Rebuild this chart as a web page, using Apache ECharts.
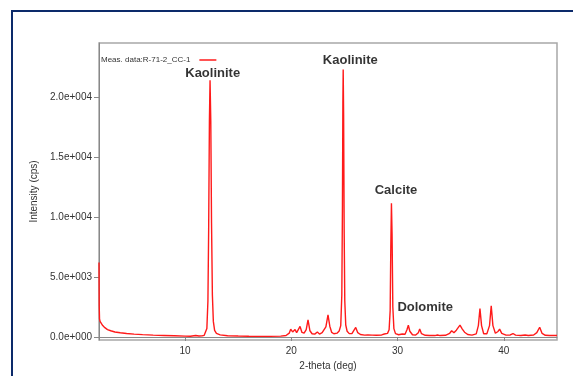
<!DOCTYPE html>
<html>
<head>
<meta charset="utf-8">
<script src="https://cdn.jsdelivr.net/npm/echarts@6/dist/echarts.min.js"></script>
<style>
  html, body { margin: 0; padding: 0; background: #fff; }
  #xrdChart { width: 573px; height: 376px; }
</style>
</head>
<body>
<div id="xrdChart"></div>
<script>
// measured pattern, 2-theta (deg) and intensity (cps)
const twoTheta = [
  1.90, 1.92, 1.95, 2.00, 2.10, 2.25, 2.45, 2.70, 3.00, 3.40, 3.90, 4.50, 5.20, 6.00, 7.00, 8.00, 9.00, 10.00, 10.50, 11.00,
  11.30, 11.60, 11.80, 11.95, 12.05, 12.15, 12.22, 12.29, 12.35, 12.42, 12.49, 12.57, 12.66, 12.78, 12.95, 13.30, 14.00, 15.00, 16.00, 17.00,
  18.00, 19.00, 19.50, 19.80, 19.94, 20.12, 20.35, 20.50, 20.65, 20.82, 21.00, 21.20, 21.40, 21.57, 21.75, 21.95, 22.20, 22.45, 22.65, 22.90,
  23.08, 23.25, 23.45, 23.62, 23.80, 24.00, 24.30, 24.50, 24.65, 24.75, 24.81, 24.85, 24.88, 24.92, 24.97, 25.03, 25.12, 25.25, 25.45, 25.70,
  25.88, 26.06, 26.25, 26.50, 26.90, 27.20, 27.37, 27.60, 28.00, 28.50, 28.75, 28.88, 29.05, 29.20, 29.30, 29.36, 29.42, 29.48, 29.55, 29.65,
  29.80, 30.10, 30.44, 30.70, 30.88, 31.01, 31.15, 31.40, 31.70, 31.95, 32.08, 32.25, 32.60, 33.00, 33.50, 33.75, 34.00, 34.50, 34.90, 35.09,
  35.30, 35.53, 35.70, 35.87, 36.09, 36.30, 36.60, 37.00, 37.40, 37.60, 37.75, 37.90, 38.10, 38.40, 38.65, 38.81, 38.97, 39.20, 39.45, 39.60,
  39.80, 40.20, 40.60, 40.86, 41.10, 41.60, 42.00, 42.30, 42.80, 43.10, 43.37, 43.60, 43.90, 44.30, 44.70, 45.00
]
const intensity = [
  6200, 2600, 1500, 1300, 1150, 950, 780, 620, 520, 420, 350, 290, 240, 200, 160, 130, 100, 70, 60, 120,
  80, 90, 140, 250, 700, 3000, 9000, 18000, 21400, 18000, 9500, 3500, 1300, 550, 300, 180, 110, 80, 60, 50,
  55, 70, 120, 320, 650, 420, 620, 360, 420, 880, 380, 320, 620, 1430, 520, 270, 240, 420, 240, 360,
  520, 850, 1850, 900, 380, 270, 320, 500, 950, 3500, 11000, 19500, 22300, 18500, 9000, 3000, 1000, 480, 280, 280,
  400, 800, 360, 210, 160, 180, 260, 160, 140, 170, 250, 380, 300, 600, 2200, 7500, 11150, 8500, 2500, 700,
  280, 190, 250, 230, 600, 980, 480, 190, 160, 360, 660, 280, 140, 120, 120, 170, 120, 140, 310, 520,
  360, 570, 620, 990, 660, 400, 210, 160, 260, 950, 2370, 950, 270, 270, 950, 2600, 950, 310, 460, 660,
  300, 160, 170, 290, 160, 130, 170, 130, 170, 360, 810, 300, 140, 120, 130, 120
]
const xTicks = [10, 20, 30, 40]
const yTicks = [0, 5000, 10000, 15000, 20000]
const seriesName = 'Meas. data:R-71-2_CC-1'
// phase labels, anchored in data coordinates
const phaseNames = ['Kaolinite', 'Kaolinite', 'Calcite', 'Dolomite']
const phaseX = [12.6, 25.55, 29.85, 32.6]
const phaseY = [21950, 23050, 12200, 2500]

function sciLabel(v) {
  const s = Number(v).toExponential(1) // e.g. 2.0e+4
  const parts = s.split('e')
  const sign = parts[1][0]
  const exp = parts[1].slice(1).padStart(3, '0')
  return parts[0] + 'e' + sign + exp
}

const chart = echarts.init(document.getElementById('xrdChart'))
const option = {
  backgroundColor: '#fff',
  animation: false,
  textStyle: { fontFamily: 'Liberation Sans' },
  graphic: [
    {
      type: 'rect',
      shape: { x: 12, y: 11, width: 620, height: 420 },
      style: { fill: 'none', stroke: '#0c2a6a', lineWidth: 2 },
      silent: true
    }
  ],
  grid: {
    left: 99,
    top: 43,
    right: 16,
    bottom: 34,
    show: true,
    borderColor: '#a8a8a8',
    borderWidth: 1.5
  },
  legend: {
    left: 101,
    top: 56,
    align: 'right',
    icon: 'rect',
    itemWidth: 17,
    itemHeight: 1.5,
    padding: 0,
    data: [seriesName],
    textStyle: { fontSize: 8, color: '#333', padding: [0, 4, 0, 0] }
  },
  xAxis: {
    type: 'value',
    min: 1.9,
    max: 45,
    name: '2-theta (deg)',
    nameLocation: 'middle',
    nameGap: 21,
    nameTextStyle: { fontSize: 10, color: '#333' },
    axisLine: { show: true, lineStyle: { color: '#888', width: 1 } },
    axisTick: { show: true, length: 4, customValues: xTicks, lineStyle: { color: '#888' } },
    axisLabel: { fontSize: 10, color: '#333', margin: 6, customValues: xTicks },
    splitLine: { show: false }
  },
  yAxis: {
    type: 'value',
    min: -250,
    max: 24500,
    name: 'Intensity (cps)',
    nameLocation: 'middle',
    nameGap: 60,
    nameTextStyle: { fontSize: 10, color: '#333' },
    axisLine: { show: true, lineStyle: { color: '#888', width: 1 } },
    axisTick: { show: true, length: 5, customValues: yTicks, lineStyle: { color: '#888' } },
    axisLabel: { fontSize: 10, color: '#333', margin: 7, customValues: yTicks, formatter: sciLabel },
    splitLine: { show: false }
  },
  series: [
    {
      name: seriesName,
      type: 'line',
      showSymbol: false,
      symbol: 'none',
      lineStyle: { color: '#ff1a1a', width: 1.4 },
      itemStyle: { color: '#ff1a1a' },
      data: twoTheta.map((x, i) => [x, intensity[i]])
    },
    {
      name: 'phases',
      type: 'scatter',
      silent: true,
      symbolSize: 1,
      itemStyle: { color: 'rgba(0,0,0,0)' },
      label: {
        show: true,
        position: 'inside',
        formatter: p => p.name,
        fontSize: 13,
        fontWeight: 'bold',
        color: '#000'
      },
      data: phaseNames.map((n, i) => ({ name: n, value: [phaseX[i], phaseY[i]] }))
    }
  ]
}
chart.setOption(option, true)
</script>
</body>
</html>
